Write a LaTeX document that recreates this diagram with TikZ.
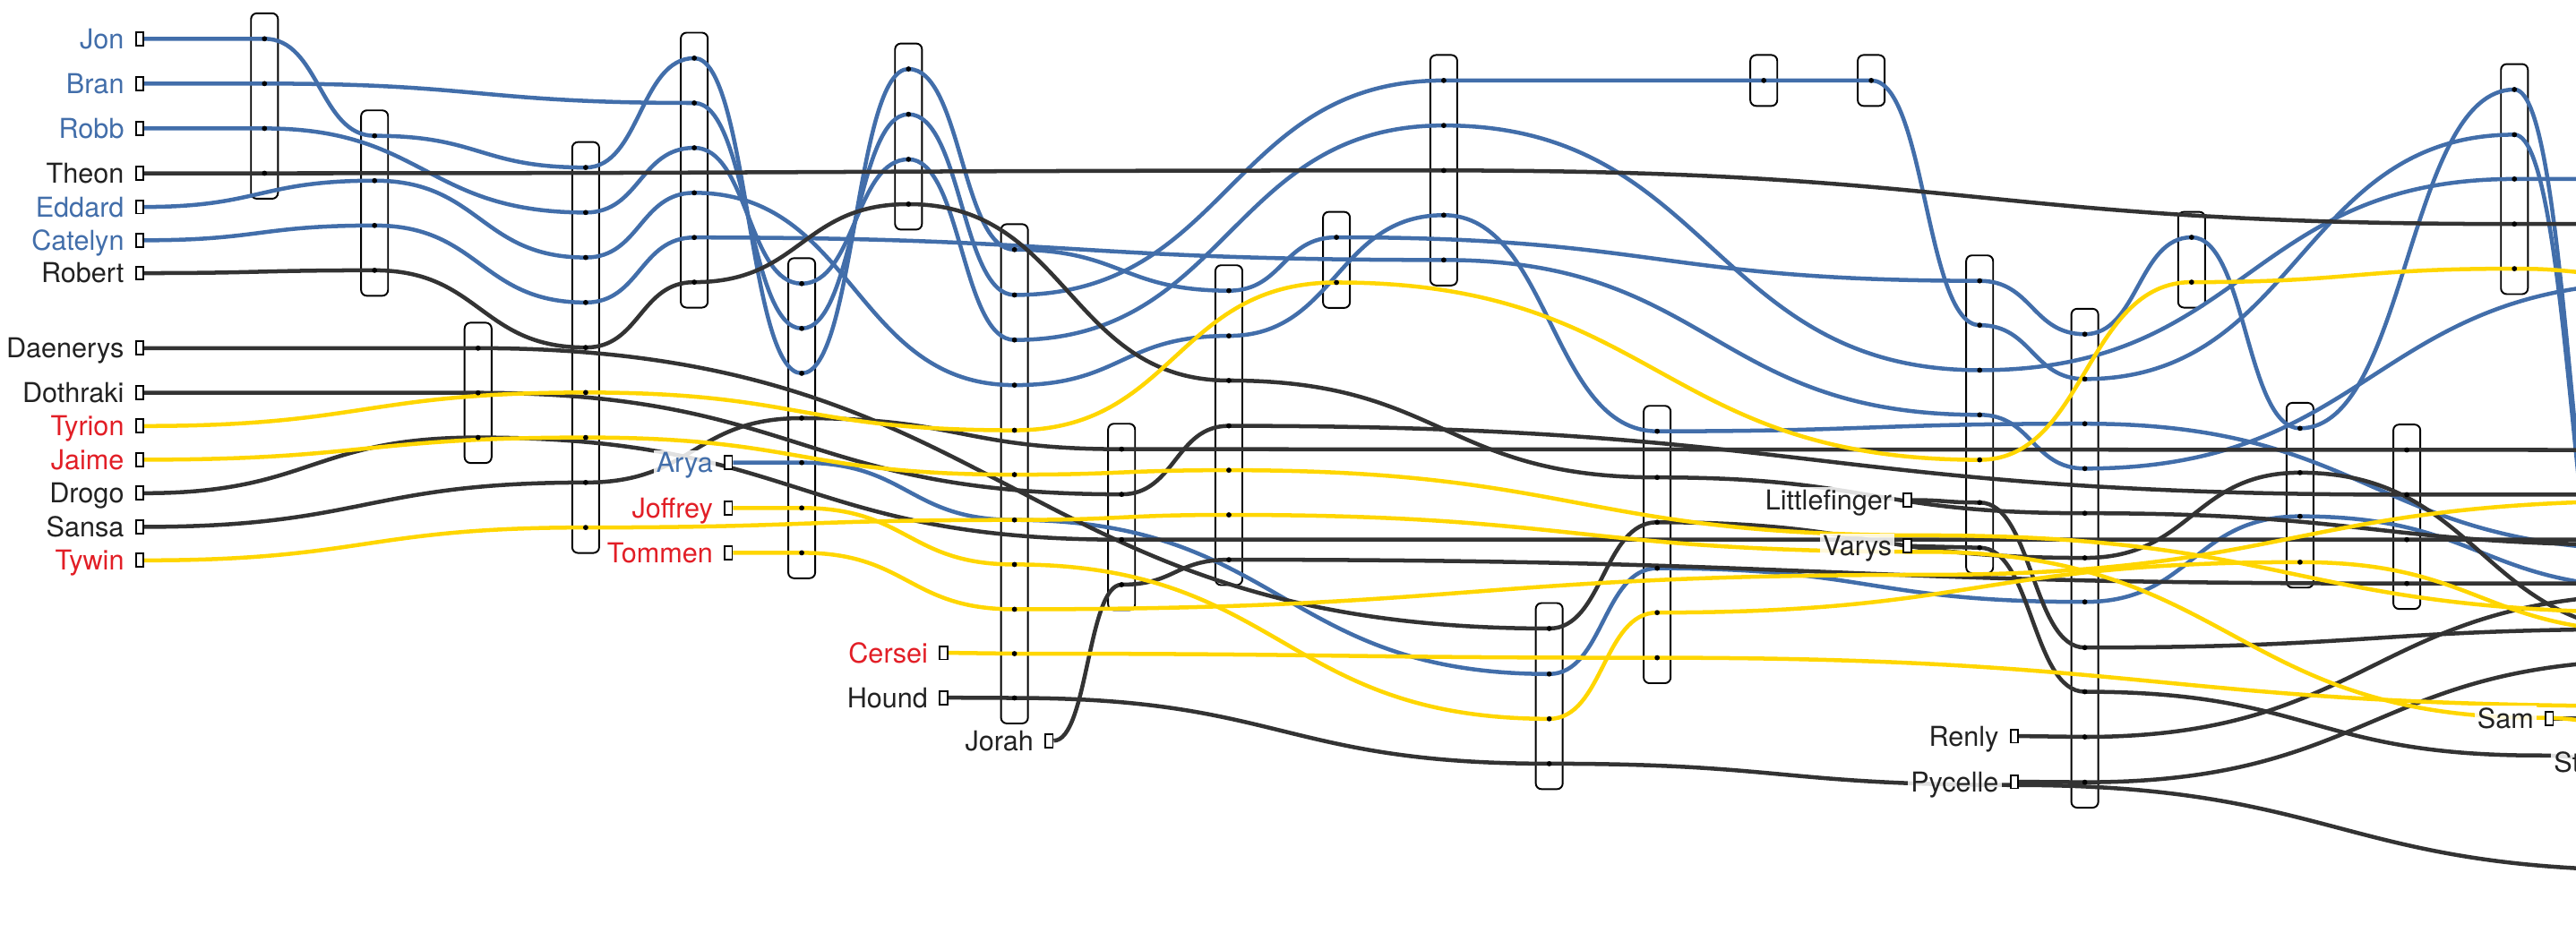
\documentclass[tikz,border=0pt]{standalone}
\usepackage{fontspec}
\setmainfont{TeX Gyre Heros}
\usetikzlibrary{positioning,calc}

\definecolor{starkblue}{RGB}{66,110,170}
\definecolor{lannistergold}{RGB}{255,214,0}
\definecolor{lannisterred}{RGB}{226,30,38}
\definecolor{otherblack}{RGB}{51,51,51}
\definecolor{labelblack}{RGB}{34,34,34}

\pgfdeclarelayer{evlayer}
\pgfdeclarelayer{linelayer}
\pgfsetlayers{evlayer,linelayer,main}

\tikzset{
  hbez/.style={to path={let \p1=(\tikztostart), \p2=(\tikztotarget) in
    .. controls ({0.5*\x1+0.5*\x2},\y1) and ({0.5*\x1+0.5*\x2},\y2) .. (\tikztotarget)}},
  starkline/.style={hbez, draw=starkblue, line width=1.4pt},
  lannline/.style={hbez, draw=lannistergold, line width=1.4pt},
  otherline/.style={hbez, draw=otherblack, line width=1.4pt},
  evbox/.style={draw=black, line width=0.6pt, rounded corners=2pt},
  startbox/.style={draw=black, fill=white, line width=0.6pt, inner sep=0pt, minimum width=2.6pt, minimum height=4.6pt},
  charlabel/.style={font=\fontsize{9.5}{11}\selectfont, text height=6.8pt, text depth=0pt, inner sep=1pt, fill=white, fill opacity=0.85, text opacity=1}
}

\begin{document}
\begin{tikzpicture}[x=0.02cm, y=-0.02cm]
\useasboundingbox (0,0) rectangle (1568,578);
\clip (0,0) rectangle (1568,578);

\node[startbox] (mjon) at (85,23.6) {};
\node[startbox] (mbran) at (85,50.9) {};
\node[startbox] (mrobb) at (85,78.2) {};
\node[startbox] (mtheon) at (85,105.5) {};
\node[startbox] (meddard) at (85,126) {};
\node[startbox] (mcatelyn) at (85,146.3) {};
\node[startbox] (mrobert) at (85,166.3) {};
\node[startbox] (mdaenerys) at (85,212) {};
\node[startbox] (mdothraki) at (85,239.2) {};
\node[startbox] (mtyrion) at (85,259.4) {};
\node[startbox] (mjaime) at (85,279.9) {};
\node[startbox] (mdrogo) at (85,300.3) {};
\node[startbox] (msansa) at (85,320.8) {};
\node[startbox] (mtywin) at (85,341.2) {};
\node[startbox] (marya) at (443.4,281.7) {};
\node[startbox] (mjoffrey) at (443.4,309.3) {};
\node[startbox] (mtommen) at (443.4,336.6) {};
\node[startbox] (mcersei) at (574.3,397.5) {};
\node[startbox] (mhound) at (574.3,424.8) {};
\node[startbox] (mjorah) at (638.6,451) {};
\node[startbox] (mlittlefinger) at (1161,304.5) {};
\node[startbox] (mvarys) at (1161,332.5) {};
\node[startbox] (mrenly) at (1226,448.2) {};
\node[startbox] (mpycelle) at (1226,476) {};
\node[startbox] (msam) at (1551.8,437.5) {};

\node[charlabel, text=starkblue, left=2.6pt of mjon] (jon) {Jon};
\node[charlabel, text=starkblue, left=2.6pt of mbran] (bran) {Bran};
\node[charlabel, text=starkblue, left=2.6pt of mrobb] (robb) {Robb};
\node[charlabel, text=labelblack, left=2.6pt of mtheon] (theon) {Theon};
\node[charlabel, text=starkblue, left=2.6pt of meddard] (eddard) {Eddard};
\node[charlabel, text=starkblue, left=2.6pt of mcatelyn] (catelyn) {Catelyn};
\node[charlabel, text=labelblack, left=2.6pt of mrobert] (robert) {Robert};
\node[charlabel, text=labelblack, left=2.6pt of mdaenerys] (daenerys) {Daenerys};
\node[charlabel, text=labelblack, left=2.6pt of mdothraki] (dothraki) {Dothraki};
\node[charlabel, text=lannisterred, left=2.6pt of mtyrion] (tyrion) {Tyrion};
\node[charlabel, text=lannisterred, left=2.6pt of mjaime] (jaime) {Jaime};
\node[charlabel, text=labelblack, left=2.6pt of mdrogo] (drogo) {Drogo};
\node[charlabel, text=labelblack, left=2.6pt of msansa] (sansa) {Sansa};
\node[charlabel, text=lannisterred, left=2.6pt of mtywin] (tywin) {Tywin};
\node[charlabel, text=starkblue, left=2.6pt of marya] (arya) {Arya};
\node[charlabel, text=lannisterred, left=2.6pt of mjoffrey] (joffrey) {Joffrey};
\node[charlabel, text=lannisterred, left=2.6pt of mtommen] (tommen) {Tommen};
\node[charlabel, text=lannisterred, left=2.6pt of mcersei] (cersei) {Cersei};
\node[charlabel, text=labelblack, left=2.6pt of mhound] (hound) {Hound};
\node[charlabel, text=labelblack, left=2.6pt of mjorah] (jorah) {Jorah};
\node[charlabel, text=labelblack, left=2.6pt of mlittlefinger] (littlefinger) {Littlefinger};
\node[charlabel, text=labelblack, left=2.6pt of mvarys] (varys) {Varys};
\node[charlabel, text=labelblack, left=2.6pt of mrenly] (renly) {Renly};
\node[charlabel, text=labelblack, left=2.6pt of mpycelle] (pycelle) {Pycelle};
\node[charlabel, text=labelblack, left=2.6pt of msam] (sam) {Sam};
\node[charlabel, text=labelblack, anchor=west] (stannis) at (1552.5,464) {St};

\begin{pgfonlayer}{evlayer}
\foreach \ex/\etop/\ebot in {161/8.1/121, 228/67.2/180.1, 291/196.5/281.9, 356.5/86.5/336.7,
    422.6/19.9/187.3, 488/157.2/352.1, 553/26.5/139.8, 617.5/136.5/440.5, 682.7/258/371.5,
    748/161.5/356.3, 813.5/129/187.5, 878.8/33.5/173.8, 943/367.2/480.5, 1008.7/247.1/416,
    1073.6/33.5/64.5, 1139/33.5/64.5, 1205/155.5/349, 1269/188/491.8, 1334/129/187.3,
    1400/245.3/357.8, 1465/258.5/370.8, 1530.5/39/179.1}
  \draw[evbox] ({\ex-8.2},\etop) rectangle ({\ex+8.2},\ebot);
\end{pgfonlayer}

\begin{pgfonlayer}{linelayer}
\draw[starkline] (mjon.east) to (161,23.6) to (228,82.7) to (356.5,102) to (422.6,35.4) to (488,227.3) to (553,42) to (617.5,152) to (748,177) to (813.5,144.5) to (1205,171) to (1269,203.5) to (1334,144.5) to (1400,260.8) to (1530.5,54.5) to (1600,420);
\draw[starkline] (mbran.east) to (161,50.9) to (422.6,62.7) to (488,200) to (553,69.6) to (617.5,179.6) to (878.8,49) to (1073.6,49) to (1139,49) to (1205,198) to (1269,230.8) to (1530.5,82) to (1603,445);
\draw[starkline] (mrobb.east) to (161,78.2) to (356.5,129.4) to (422.6,90) to (488,172.7) to (553,97) to (617.5,207) to (878.8,76.4) to (1205,225.4) to (1530.5,109) to (1600,109);
\draw[starkline] (meddard.east) to (228,110) to (356.5,156.8) to (422.6,117.4) to (617.5,234.5) to (748,204.5) to (878.8,131) to (1008.7,262.6) to (1269,258) to (1620,335);
\draw[starkline] (mcatelyn.east) to (228,137.3) to (356.5,184.2) to (422.6,144.6) to (878.8,158.3) to (1205,252.6) to (1269,285.3) to (1620,172);
\draw[starkline] (marya.east) to (488,281.7) to (617.5,316.6) to (943,410.4) to (1008.7,346) to (1269,366.5) to (1400,314.4) to (1620,358);

\draw[otherline] (mtheon.east) to (161,105.5) to (878.8,103.8) to (1530.5,136.4) to (1600,136.4);
\draw[otherline] (mrobert.east) to (228,164.6) to (356.5,211.6) to (422.6,171.8) to (553,124.3) to (748,231.7) to (1008.7,290.7) to (1269,312.5) to (1620,332);
\draw[otherline] (mdaenerys.east) to (291,212) to (943,382.7) to (1008.7,318) to (1269,339.7) to (1400,287.8) to (1620,385);
\draw[otherline] (mdothraki.east) to (291,239.2) to (682.7,301) to (748,259.3) to (1465,301.2) to (1620,301.2);
\draw[otherline] (mdrogo.east) to (291,266.4) to (682.7,328.6) to (1620,328.6);
\draw[otherline] (msansa.east) to (356.5,293.8) to (488,254.6) to (682.7,273.5) to (1620,274);
\draw[otherline] (mhound.east) to (617.5,425) to (943,465) to (1226,478) to (1620,530);
\draw[otherline] (mjorah.east) to (682.7,356) to (748,340.8) to (1465,355.3) to (1620,355.3);
\draw[otherline] (mlittlefinger.east) to (1205,306) to (1269,394.3) to (1620,383);
\draw[otherline] (mvarys.east) to (1205,333.5) to (1269,421.2) to (1545,460) to (1620,468);
\draw[otherline] (mrenly.east) to (1269,448.7) to (1620,362);
\draw[otherline] (mpycelle.east) to (1269,476.3) to (1620,402);
\draw[otherline] (msam.east) to (1620,437.5);

\draw[lannline] (mtyrion.east) to (356.5,239) to (617.5,262) to (813.5,172) to (1205,280) to (1334,171.8) to (1530.5,163.6) to (1600,167);
\draw[lannline] (mjaime.east) to (356.5,266.4) to (617.5,289) to (748,286.3) to (1172,326) to (1620,373);
\draw[lannline] (mtywin.east) to (356.5,321.2) to (617.5,316.6) to (748,313.5) to (1172,336) to (1545,437) to (1620,445);
\draw[lannline] (mjoffrey.east) to (488,309.3) to (617.5,343.7) to (943,437.7) to (1008.7,373) to (1400,342.3) to (1620,385);
\draw[lannline] (mtommen.east) to (488,336.6) to (617.5,371) to (1172,350) to (1620,305);
\draw[lannline] (mcersei.east) to (617.5,398) to (1008.7,400.5) to (1620,430);
\end{pgfonlayer}

\foreach \ex/\elist in {161/{23.6,50.9,78.2,105.5}, 228/{82.7,110,137.3,164.6}, 291/{212,239.2,266.4},
    356.5/{102,129.4,156.8,184.2,211.6,239,266.4,293.8,321.2}, 422.6/{35.4,62.7,90,117.4,144.6,171.8},
    488/{172.7,200,227.3,254.6,281.7,309.3,336.6}, 553/{42,69.6,97,124.3},
    617.5/{152,179.6,207,234.5,262,289,316.6,343.7,371,398,425}, 682.7/{273.5,301,328.6,356},
    748/{177,204.5,231.7,259.3,286.3,313.5,340.8}, 813.5/{144.5,172}, 878.8/{49,76.4,103.8,131,158.3},
    943/{382.7,410.4,437.7,465}, 1008.7/{262.6,290.7,318,346,373,400.5}, 1073.6/{49}, 1139/{49},
    1205/{171,198,225.4,252.6,280,306,333.5}, 1269/{203.5,230.8,258,285.3,312.5,339.7,366.5,394.3,421.2,448.7,476.3},
    1334/{144.5,171.8}, 1400/{260.8,287.8,314.4,342.3}, 1465/{274,301.2,328.6,355.3}, 1530.5/{54.5,82,109,136.4,163.6}}
  \foreach \ey in \elist \fill (\ex,\ey) circle[radius=0.9pt];

\end{tikzpicture}
\end{document}
